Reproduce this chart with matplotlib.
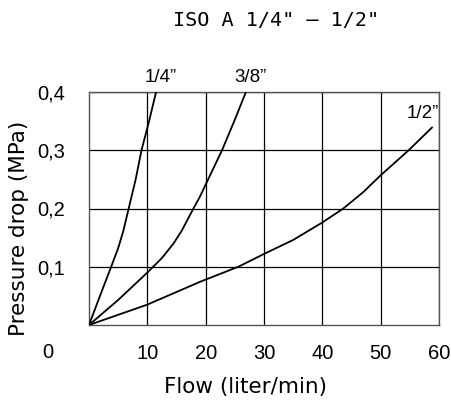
import matplotlib
matplotlib.use("Agg")
import matplotlib.pyplot as plt
import matplotlib.transforms as mtransforms

# Data
flow_14 = [0, 2.0, 3.8, 5.0, 5.9, 6.8, 8.0, 9.0, 10.3, 11.5]
dp_14 = [0, 0.053, 0.100, 0.132, 0.162, 0.200, 0.250, 0.300, 0.350, 0.400]

flow_38 = [0, 5.0, 10.0, 12.5, 14.5, 15.9, 17.9, 19.0, 20.9, 22.8, 24.9, 26.9]
dp_38 = [0, 0.043, 0.090, 0.115, 0.140, 0.162, 0.200, 0.220, 0.260, 0.300, 0.350, 0.400]

flow_12 = [0, 10, 19, 25.6, 30, 35, 40, 43.6, 47, 50, 54.8, 58.9]
dp_12 = [0, 0.035, 0.074, 0.100, 0.122, 0.146, 0.176, 0.200, 0.228, 0.257, 0.300, 0.340]

series = [("1/4”", flow_14, dp_14), ("3/8”", flow_38, dp_38), ("1/2”", flow_12, dp_12)]

x_ticks = [10, 20, 30, 40, 50, 60]
y_ticks = [0.1, 0.2, 0.3, 0.4]
y_tick_labels = ["0,1", "0,2", "0,3", "0,4"]

title = "ISO A 1/4\" – 1/2\""
xlabel = "Flow (liter/min)"
ylabel = "Pressure drop (MPa)"

fig = plt.figure(figsize=(4.51, 4.03), dpi=100)
ax = fig.add_axes([89/451, 1-325/403, (439-89)/451, (325-92)/403])
ax.set_xlim(0, 60)
ax.set_ylim(0, 0.4)

for name, xs, ys in series:
    ax.plot(xs, ys, color="black", lw=1.3, solid_capstyle="butt", clip_on=True, zorder=3)

ax.set_xticks(x_ticks)
ax.set_yticks(y_ticks)
ax.set_yticklabels(y_tick_labels)
ax.grid(True, color="black", lw=0.9)
ax.tick_params(length=0, pad=17, labelsize=14.5)
ax.tick_params(axis="x", pad=14)
for lab in ax.get_xticklabels() + ax.get_yticklabels():
    lab.set_family("Liberation Sans")
for sp in ax.spines.values():
    sp.set_color("#555555")
    sp.set_linewidth(1.0)

# origin label
trans = mtransforms.blended_transform_factory(ax.transData, fig.transFigure)
ax.text(-7.0, 1-353/403, "0", transform=trans, ha="center", va="center",
        fontsize=14.5, family="Liberation Sans", clip_on=False)

# curve labels
ax.text(12.3, 1-78/403, "1/4”", transform=trans, ha="center", va="center",
        fontsize=13.5, family="Liberation Sans")
ax.text(27.6, 1-78/403, "3/8”", transform=trans, ha="center", va="center",
        fontsize=13.5, family="Liberation Sans")
ax.text(57.2, 1-113/403, "1/2”", transform=trans, ha="center", va="center",
        fontsize=13.5, family="Liberation Sans")

fig.text(276/451, 1-21/403, title, ha="center", va="center", fontsize=14.5,
         family="DejaVu Sans Mono")
fig.text(246/451, 1-393/403, xlabel, ha="center", va="baseline", fontsize=15.5,
         family="DejaVu Sans")
fig.text(19/451, 1-228/403, ylabel, ha="center", va="center", fontsize=15.5,
         family="DejaVu Sans", rotation=90)

fig.savefig("out.png", dpi=100)
